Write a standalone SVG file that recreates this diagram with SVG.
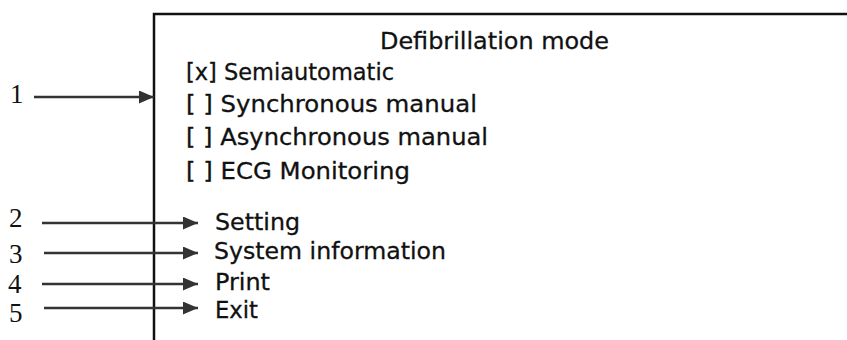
<svg xmlns="http://www.w3.org/2000/svg" width="847" height="340" viewBox="0 0 847 340">
  <style>
    .ui { font-family: "DejaVu Sans", Verdana, sans-serif; font-size: 23.5px; fill: #111; stroke: #111; stroke-width: 0.3; }
    .num { font-family: "Liberation Serif", "Times New Roman", serif; font-size: 27px; fill: #111; }
    .lead { stroke: #333; stroke-width: 2.5; fill: none; marker-end: url(#head); }
  </style>
  <defs>
    <marker id="head" viewBox="0 0 15 13" refX="15" refY="6.5" markerWidth="15" markerHeight="13" markerUnits="userSpaceOnUse" orient="auto">
      <path d="M0,0 L15,6.5 L0,13 Z" fill="#333"/>
    </marker>
  </defs>

  <rect width="847" height="340" fill="#fff"/>

  <!-- menu screen frame -->
  <g id="screen">
    <path d="M154,342 L154,14 L849,14" fill="none" stroke="#111" stroke-width="2.5"/>
    <text class="ui" x="380" y="49" textLength="229" lengthAdjust="spacingAndGlyphs">Defibrillation mode</text>
  </g>

  <g id="mode-options">
    <text class="ui" x="186" y="80" textLength="208" lengthAdjust="spacingAndGlyphs">[x] Semiautomatic</text>
    <text class="ui" x="186" y="112" textLength="291" lengthAdjust="spacingAndGlyphs">[ ] Synchronous manual</text>
    <text class="ui" x="186" y="145" textLength="302" lengthAdjust="spacingAndGlyphs">[ ] Asynchronous manual</text>
    <text class="ui" x="186" y="179" textLength="224" lengthAdjust="spacingAndGlyphs">[ ] ECG Monitoring</text>
  </g>

  <g id="menu-items">
    <text class="ui" x="215" y="230" textLength="85" lengthAdjust="spacingAndGlyphs">Setting</text>
    <text class="ui" x="214" y="259" textLength="232" lengthAdjust="spacingAndGlyphs">System information</text>
    <text class="ui" x="215" y="290" textLength="55" lengthAdjust="spacingAndGlyphs">Print</text>
    <text class="ui" x="215" y="318" textLength="43" lengthAdjust="spacingAndGlyphs">Exit</text>
  </g>

  <g id="callout-numbers">
    <text class="num" x="10" y="103">1</text>
    <text class="num" x="9" y="227">2</text>
    <text class="num" x="9" y="263">3</text>
    <text class="num" x="8" y="293">4</text>
    <text class="num" x="9" y="322">5</text>
  </g>

  <g id="connectors">
    <line class="lead" x1="34" y1="97" x2="154" y2="97"/>
    <line class="lead" x1="42" y1="223" x2="198" y2="223"/>
    <line class="lead" x1="44" y1="253" x2="198" y2="253"/>
    <line class="lead" x1="42" y1="284" x2="198" y2="284"/>
    <line class="lead" x1="44" y1="308" x2="198" y2="308"/>
  </g>
</svg>
